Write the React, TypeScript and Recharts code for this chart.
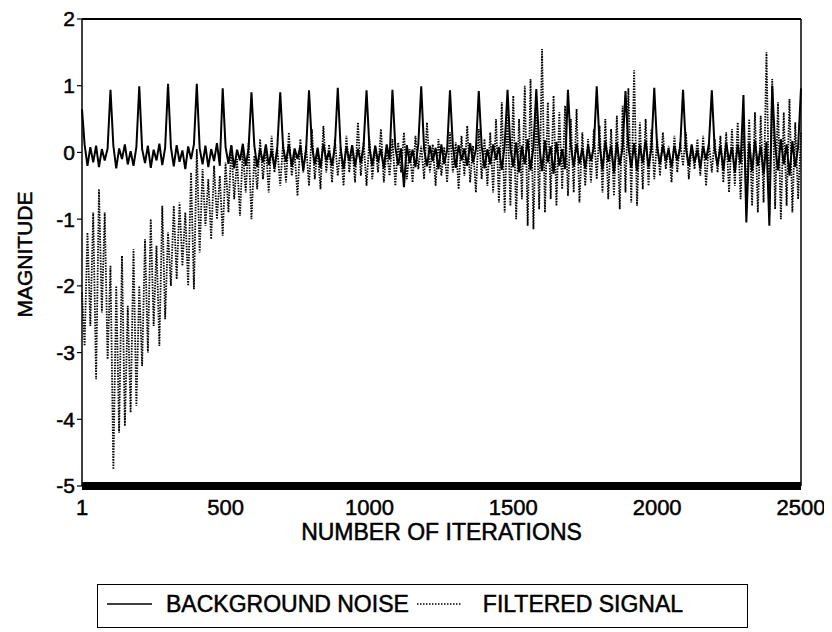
import React from 'react';
import {
  LineChart, Line, XAxis, YAxis, ReferenceLine, Legend,
} from 'recharts';

const FONT = '"Liberation Sans", Arial, Helvetica, sans-serif';

// one sample every 10 iterations (first sample is iteration 1)
const STEP = 10;

// background noise, iterations 1..490
const noiseA = [
  0.65, 0.12, -0.2, 0.08, -0.15, 0.1, -0.22, 0.05, -0.12, 0.06,
  0.94, 0.1, -0.24, 0.06, -0.1, 0.12, -0.18, 0.02, -0.2, 0.08,
  0.99, 0.05, -0.16, 0.1, -0.23, 0.04, -0.12, 0.13, -0.19, 0.07,
  1.03, 0.08, -0.21, 0.11, -0.14, 0.03, -0.25, 0.09, -0.1, 0.12,
  1.03, 0.06, -0.18, 0.1, -0.22, 0.05, -0.13, 0.14, -0.2, 0.96,
];
// 500..990
const noiseB = [
  0.08, -0.17, 0.11, -0.24, 0.04, -0.12, 0.13, -0.2, 0.06, 0.9,
  0.1, -0.22, 0.05, -0.15, 0.12, -0.19, 0.03, -0.24, 0.09, 0.9,
  0.07, -0.14, 0.12, -0.21, 0.06, -0.1, 0.1, -0.26, 0.04, 0.93,
  0.11, -0.18, 0.07, -0.23, 0.13, -0.12, 0.02, -0.2, 0.1, 0.97,
  0.06, -0.25, 0.09, -0.13, 0.11, -0.21, 0.05, -0.16, 0.12, 0.93,
];
// 1000..1490
const noiseC = [
  0.07, -0.2, 0.1, -0.14, 0.05, -0.24, 0.12, -0.11, 0.94, 0.08,
  -0.19, 0.06, -0.52, 0.11, -0.16, 0.04, -0.22, 0.13, 0.99, 0.05,
  -0.21, 0.1, -0.13, 0.07, -0.25, 0.12, -0.17, 0.03, 0.93, 0.09,
  -0.23, 0.11, -0.12, 0.06, -0.2, 0.14, -0.15, 0.04, 0.92, 0.1,
  -0.24, 0.05, -0.18, 0.12, -0.11, 0.08, -0.26, 0.1, 0.94, 0.06,
];
// 1500..1990
const noiseD = [
  -0.22, 0.15, -0.3, 0.1, -0.18, 0.2, -0.27, 0.08, 0.95, 0.12,
  -0.28, 0.18, -0.15, 0.09, -0.32, 0.16, -0.2, 0.05, -0.25, 0.94,
  0.1, -0.21, 0.13, -0.17, 0.06, -0.24, 0.11, -0.13, 0.08, 0.99,
  0.12, -0.26, 0.17, -0.14, 0.1, -0.3, 0.15, -0.19, 0.07, 0.92,
  0.09, -0.23, 0.14, -0.28, 0.11, -0.16, 0.18, -0.22, 0.06, 0.97,
];
// 2000..2500
const noiseE = [
  0.08, -0.18, 0.11, -0.13, 0.05, -0.22, 0.1, -0.12, 0.07, 0.94,
  0.06, -0.2, 0.12, -0.15, 0.04, -0.24, 0.09, -0.11, 0.13, 0.93,
  0.05, -0.19, 0.1, -0.26, 0.15, -0.14, 0.08, -0.3, 0.12, -0.17,
  0.86, -1.05, 0.14, -0.28, 0.18, -0.2, 0.09, -0.33, 0.16, -1.1,
  1.0, 0.1, -0.27, 0.2, -0.18, 0.12, -0.35, 0.17, -0.22, 0.08,
  0.96,
];

// filtered signal, same iterations
const filteredA = [
  -2.1, -2.9, -1.2, -2.6, -0.9, -3.4, -0.55, -2.4, -0.9, -3.1,
  -1.7, -4.75, -2.0, -4.2, -1.55, -4.1, -2.3, -3.9, -1.45, -3.8,
  -2.0, -3.2, -1.3, -3.0, -1.0, -2.6, -1.4, -2.9, -0.8, -2.5,
  -1.2, -2.0, -0.8, -1.9, -0.75, -1.7, -0.9, -2.0, -0.3, -2.05,
  0.05, -1.5, -0.25, -1.1, -0.4, -1.3, -0.2, -1.0, -0.35, -1.25,
];
const filteredB = [
  -0.15, -0.9, 0.1, -0.7, -0.1, -0.95, 0.05, -0.6, 0.15, -1.0,
  -0.05, -0.55, 0.2, -0.4, 0.1, -0.6, 0.25, -0.3, 0.05, -0.5,
  0.15, -0.45, 0.3, -0.35, 0.0, -0.65, 0.2, -0.3, 0.1, -0.5,
  0.35, -0.4, 0.05, -0.55, 0.4, -0.3, 0.12, -0.45, 0.2, -0.35,
  0.08, -0.5, 0.25, -0.3, 0.1, -0.45, 0.45, -0.35, 0.15, -0.5,
];
const filteredC = [
  0.2, -0.4, 0.1, -0.3, 0.35, -0.45, 0.05, -0.35, 0.2, -0.5,
  0.15, -0.3, 0.3, -0.4, 0.05, -0.45, 0.25, -0.25, 0.1, -0.4,
  0.45, -0.3, 0.12, -0.5, 0.2, -0.35, 0.08, -0.45, 0.3, -0.3,
  0.15, -0.55, 0.25, -0.35, 0.4, -0.45, 0.1, -0.6, 0.35, -0.4,
  0.2, -0.5, 0.3, -0.6, 0.5, -0.75, 0.75, -0.9, 0.6, -0.8,
];
const filteredD = [
  0.85, -1.0, 0.5, -0.7, 1.0, -1.1, 1.1, -1.15, 0.7, -0.85,
  1.55, -0.9, 0.75, -0.7, 0.85, -0.8, 0.6, -0.55, 0.7, -0.65,
  0.5, -0.6, 0.65, -0.75, 0.3, -0.5, 0.2, -0.45, 0.35, -0.4,
  0.4, -0.6, 0.5, -0.7, 0.35, -0.65, 0.55, -0.85, 0.7, -0.6,
  0.96, -0.75, 1.23, -0.8, 0.45, -0.55, 0.5, -0.5, 0.35, -0.4,
];
const filteredE = [
  0.2, -0.35, 0.3, -0.25, 0.1, -0.45, 0.25, -0.3, 0.15, -0.2,
  0.3, -0.4, 0.1, -0.25, 0.2, -0.35, 0.25, -0.5, 0.15, -0.3,
  0.2, -0.3, 0.25, -0.45, 0.3, -0.6, 0.35, -0.5, 0.45, -0.7,
  0.4, -0.65, 0.5, -0.8, 0.6, -0.9, 0.55, -0.75, 1.5, -0.95,
  1.1, -0.85, 0.75, -1.0, 0.6, -0.8, 0.8, -0.9, 0.45, -0.7,
  0.3,
];

const xTicks = [1, 500, 1000, 1500, 2000, 2500];
const yTicks = [-5, -4, -3, -2, -1, 0, 1, 2];

const noise = [...noiseA, ...noiseB, ...noiseC, ...noiseD, ...noiseE];
const filtered = [...filteredA, ...filteredB, ...filteredC, ...filteredD, ...filteredE];

const data = noise.map((v, i) => ({
  iter: i === 0 ? 1 : i * STEP,
  noise: v,
  filtered: filtered[i],
}));

// scanned look: slightly heavier glyphs
const textInk = { stroke: '#000', strokeWidth: 0.5 };

const LegendBox = () => (
  <div
    style={{
      marginLeft: 89,
      width: 651,
      height: 44,
      border: '1.5px solid #000',
      boxSizing: 'border-box',
      display: 'flex',
      alignItems: 'center',
      fontFamily: FONT,
      fontSize: 23,
      color: '#000',
      lineHeight: 1,
      WebkitTextStroke: '0.5px #000',
      paddingBottom: 4,
    }}
  >
    <svg width={45} height={4} style={{ marginLeft: 9 }}>
      <line x1={0} y1={2} x2={45} y2={2} stroke="#000" strokeWidth={1.5} />
    </svg>
    <span style={{ marginLeft: 14 }}>BACKGROUND NOISE</span>
    <svg width={44} height={4} style={{ marginLeft: 8 }}>
      <line x1={0} y1={2} x2={44} y2={2} stroke="#000" strokeWidth={1.5} strokeDasharray="1.5 1.5" />
    </svg>
    <span style={{ marginLeft: 22 }}>FILTERED SIGNAL</span>
  </div>
);

const App: React.FC = () => {
  return (
    <div style={{ width: 824, height: 624 }}>
      <LineChart
        width={824}
        height={624}
        data={data}
        margin={{ top: 11, right: 31, left: 0, bottom: 4 }}
      >
        <XAxis
          dataKey="iter"
          type="number"
          domain={[1, 2500]}
          ticks={xTicks}
          interval={0}
          height={98}
          tickLine={false}
          tickSize={6}
          tickMargin={7}
          axisLine={{ stroke: '#000', strokeWidth: 8 }}
          tick={{ fill: '#000', fontSize: 22, fontFamily: FONT, ...textInk }}
          label={(props: any) => {
            const vb = props.viewBox;
            return (
              <text
                x={vb.x + vb.width / 2}
                y={vb.y + 54}
                textAnchor="middle"
                fill="#000"
                fontSize={23}
                fontFamily={FONT}
                {...textInk}
              >
                NUMBER OF ITERATIONS
              </text>
            );
          }}
        />
        <YAxis
          type="number"
          domain={[-5, 2]}
          ticks={yTicks}
          interval={0}
          width={74}
          tickSize={5}
          tickMargin={2}
          axisLine={{ stroke: '#000', strokeWidth: 1.5 }}
          tickLine={{ stroke: '#000', strokeWidth: 1.2 }}
          tick={{ fill: '#000', fontSize: 21, fontFamily: FONT, ...textInk }}
          label={(props: any) => {
            const vb = props.viewBox;
            const cy = vb.y + vb.height / 2 + 2;
            return (
              <text
                x={24}
                y={cy}
                transform={`rotate(-90, 24, ${cy})`}
                textAnchor="middle"
                fill="#000"
                fontSize={21}
                fontFamily={FONT}
                {...textInk}
              >
                MAGNITUDE
              </text>
            );
          }}
        />
        <ReferenceLine y={2} stroke="#000" strokeWidth={2} />
        <ReferenceLine x={2500} stroke="#000" strokeWidth={1.5} />
        <Line
          type="linear"
          dataKey="filtered"
          stroke="#000"
          strokeWidth={1.8}
          strokeDasharray="1.5 1.2"
          dot={false}
          isAnimationActive={false}
        />
        <Line
          type="linear"
          dataKey="noise"
          stroke="#000"
          strokeWidth={2}
          dot={false}
          isAnimationActive={false}
        />
        <Legend verticalAlign="bottom" align="left" content={() => <LegendBox />} />
      </LineChart>
    </div>
  );
};

export default App;
